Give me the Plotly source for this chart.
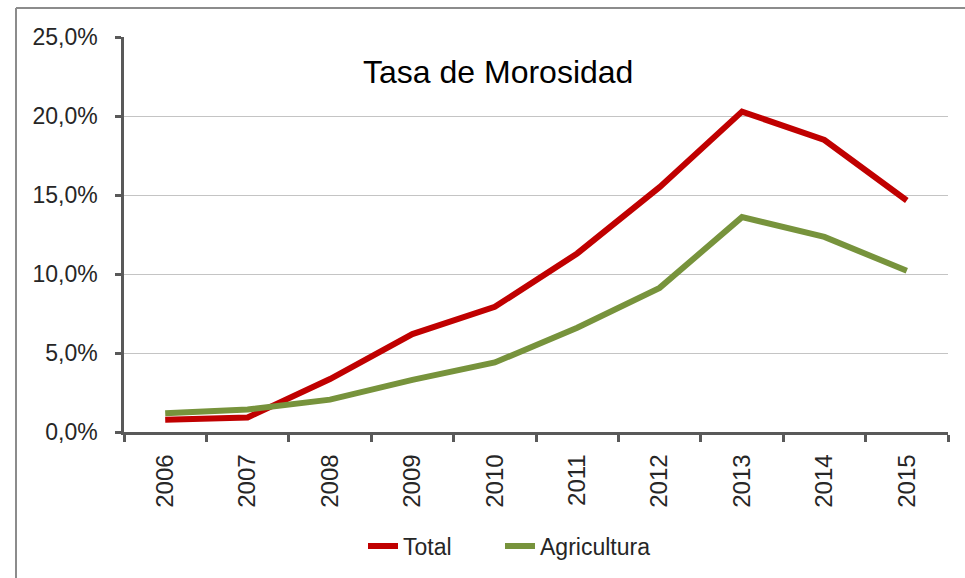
import plotly.graph_objects as go

years = ["2006", "2007", "2008", "2009", "2010", "2011", "2012", "2013", "2014", "2015"]
total = [0.0078, 0.0092, 0.0335, 0.0620, 0.0792, 0.1130, 0.1550, 0.2028, 0.1848, 0.1465]
agricultura = [0.0118, 0.0142, 0.0205, 0.0330, 0.0440, 0.0660, 0.0912, 0.1360, 0.1235, 0.1020]
y_ticks = [0, 0.05, 0.10, 0.15, 0.20, 0.25]

W, H = 965, 578
L, R, T, B = 124, 17, 37, 146
pw, ph = W - L - R, H - T - B

def px(x):
    return (x - L) / pw

def py(y):
    return 1 - (y - T) / ph

FONT = "Liberation Sans, Arial, sans-serif"

fig = go.Figure()
fig.add_trace(go.Scatter(x=years, y=total, name="Total", mode="lines",
                         line=dict(color="#C00000", width=6), legend="legend"))
fig.add_trace(go.Scatter(x=years, y=agricultura, name="Agricultura", mode="lines",
                         line=dict(color="#77933C", width=6), legend="legend2"))

legend_common = dict(orientation="h", xanchor="left", y=py(546), yanchor="middle",
                     font=dict(size=23, color="#262626"), bgcolor="rgba(0,0,0,0)")

fig.update_layout(
    width=W, height=H,
    margin=dict(l=L, r=R, t=T, b=B, autoexpand=False),
    paper_bgcolor="white", plot_bgcolor="white",
    separators=",.",
    font=dict(family=FONT, color="#262626"),
    showlegend=True,
    legend=dict(x=px(363), **legend_common),
    legend2=dict(x=px(500), **legend_common),
    xaxis=dict(type="category", range=[-0.5, len(years) - 0.5], tickson="boundaries",
               ticks="outside", ticklen=7,
               tickwidth=2.5, tickcolor="#595959", showline=True, linecolor="#595959",
               linewidth=2.5, tickangle=-90, tickfont=dict(size=24, color="#262626"),
               showgrid=False, ticklabelstandoff=10),
    yaxis=dict(range=[0, 0.25], tickvals=y_ticks, tickformat=".1%", ticks="outside",
               ticklen=6, tickwidth=2.5, tickcolor="#595959", showline=True,
               linecolor="#595959", linewidth=2.5, showgrid=True, gridcolor="#C4C4C4",
               gridwidth=1, tickfont=dict(size=23, color="#262626"), zeroline=False,
               ticklabelstandoff=13),
    annotations=[dict(text="Tasa de Morosidad", x=px(497.5), y=py(72), xref="paper",
                      yref="paper", showarrow=False, xanchor="center", yanchor="middle",
                      font=dict(size=32, color="#000000", family=FONT))],
    shapes=[dict(type="line", xref="paper", yref="paper", x0=px(16), x1=px(16),
                 y0=py(H + 5), y1=py(8), line=dict(color="#8C8C8C", width=2)),
            dict(type="line", xref="paper", yref="paper", x0=px(16), x1=px(W + 5),
                 y0=py(8), y1=py(8), line=dict(color="#8C8C8C", width=2))],
)

fig.write_html("out.html", config={"displayModeBar": False},
               post_script="document.body.style.margin='0';")
